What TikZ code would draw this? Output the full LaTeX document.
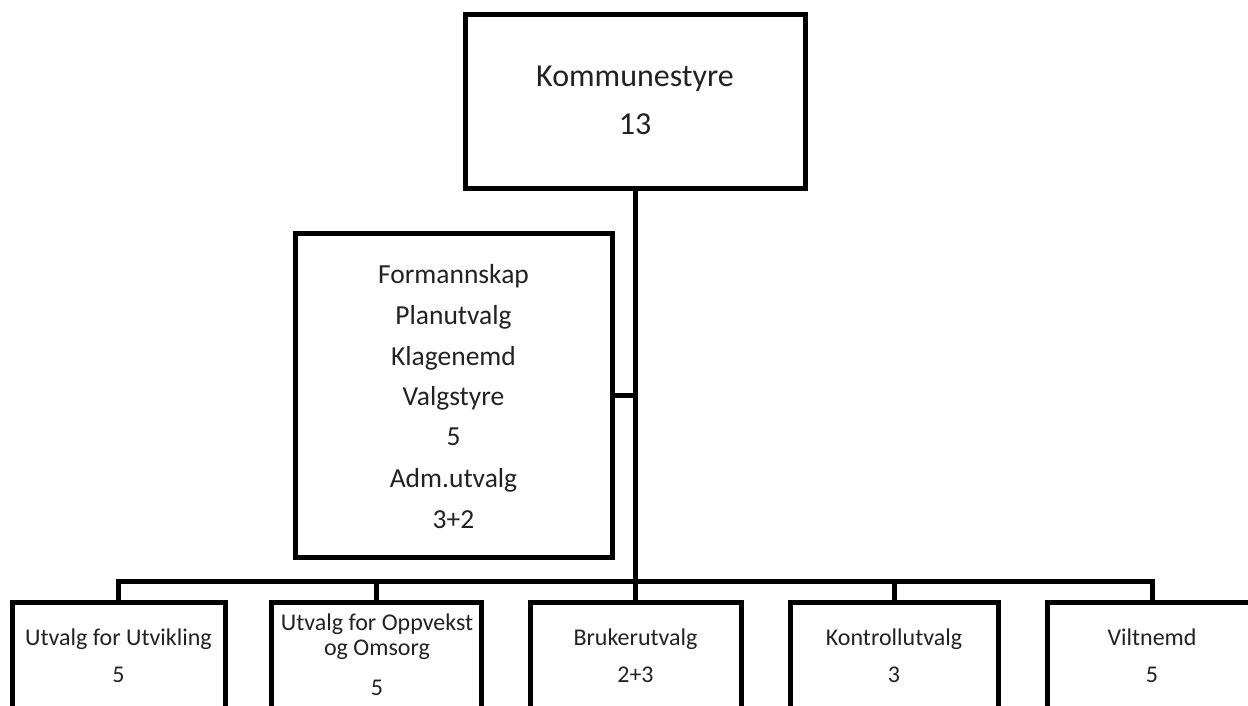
\documentclass[tikz,border=0pt]{standalone}
\usepackage{fontspec}
\setmainfont{Carlito}
\definecolor{ink}{HTML}{222222}
\begin{document}
\begin{tikzpicture}[x=1pt,y=-1pt,
  box/.style={draw=black, line width=5pt, inner sep=0pt, outer sep=0pt, fill=white},
  conn/.style={draw=black, line width=5pt},
  bigtxt/.style={anchor=base, inner sep=0pt, text=ink, font=\fontsize{32}{38}\selectfont},
  midtxt/.style={anchor=base, inner sep=0pt, text=ink, font=\fontsize{27.5}{33}\selectfont},
  smltxt/.style={anchor=base, inner sep=0pt, text=ink, font=\fontsize{24}{29}\selectfont}]
\useasboundingbox (0,0) rectangle (1248,706);
\fill[white] (0,0) rectangle (1248,706);
\clip (0,0) rectangle (1248,706);

% top box
\node[box, minimum width=340pt, minimum height=173pt] (k) at (635,101.5) {};
\node[bigtxt] (k1) at (635,87) {Kommunestyre};
\node[bigtxt] (k2) at (635,135) {13};

% middle box
\node[box, minimum width=317pt, minimum height=324pt] (f) at (453.5,395) {};
\node[midtxt] (f1) at (453.5,283) {Formannskap};
\node[midtxt] (f2) at (453.5,324) {Planutvalg};
\node[midtxt] (f3) at (453.5,365) {Klagenemd};
\node[midtxt] (f4) at (453.5,405) {Valgstyre};
\node[midtxt] (f5) at (453.5,445) {5};
\node[midtxt] (f6) at (453.5,487) {Adm.utvalg};
\node[midtxt] (f7) at (453.5,528) {3+2};

% bottom boxes
\node[box, minimum width=213pt, minimum height=200pt, anchor=north] (u1) at (118.5,602) {};
\node[box, minimum width=210pt, minimum height=200pt, anchor=north] (u2) at (376,602) {};
\node[box, minimum width=211pt, minimum height=200pt, anchor=north] (u3) at (635.5,602) {};
\node[box, minimum width=208pt, minimum height=200pt, anchor=north] (u4) at (894,602) {};
\node[box, minimum width=210pt, minimum height=200pt, anchor=north] (u5) at (1152,602) {};

\node[smltxt] (u1a) at (118.5,645) {Utvalg for Utvikling};
\node[smltxt] (u1b) at (118.5,682) {5};
\node[smltxt] (u2a) at (377,630) {Utvalg for Oppvekst};
\node[smltxt] (u2b) at (377,655) {og Omsorg};
\node[smltxt] (u2c) at (377,695) {5};
\node[smltxt] (u3a) at (635.5,645) {Brukerutvalg};
\node[smltxt] (u3b) at (635.5,682) {2+3};
\node[smltxt] (u4a) at (894,645) {Kontrollutvalg};
\node[smltxt] (u4b) at (894,682) {3};
\node[smltxt] (u5a) at (1152,645) {Viltnemd};
\node[smltxt] (u5b) at (1152,682) {5};

% connectors
\coordinate (bus) at (635,581);
\draw[conn] (k.south) -- (bus);
\draw[conn] (f.east) -- (f.east -| k.south);
\draw[conn, line join=miter] (u1.north) -- (u1.north |- bus) -- (u5.north |- bus) -- (u5.north);
\draw[conn] (u2.north) -- (u2.north |- bus);
\draw[conn] (u3.north) -- (u3.north |- bus);
\draw[conn] (u4.north) -- (u4.north |- bus);
\end{tikzpicture}
\end{document}
